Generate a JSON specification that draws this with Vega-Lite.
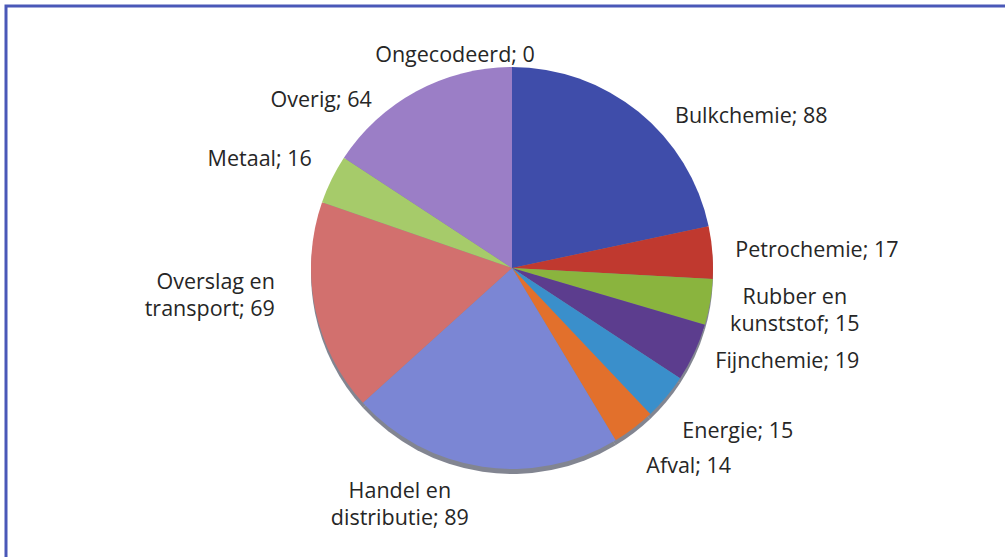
{
  "$schema": "https://vega.github.io/schema/vega-lite/v6.json",
  "autosize": "none",
  "padding": {"left": 6, "top": 6, "right": -10, "bottom": -10},
  "width": 1009,
  "height": 561,
  "background": "white",
  "view": {"stroke": "#4A58B8", "strokeWidth": 3, "fill": "white"},
  "config": {
    "view": {"stroke": "#4A58B8", "strokeWidth": 3},
    "text": {"font": "Open Sans", "fontSize": 21.5, "color": "#262626", "baseline": "middle", "lineBreak": "\n", "lineHeight": 27}
  },
  "data": {
    "values": [
      {"idx": 1, "cat": "Bulkchemie", "value": 88, "label": "Bulkchemie; 88"},
      {"idx": 2, "cat": "Petrochemie", "value": 17, "label": "Petrochemie; 17"},
      {"idx": 3, "cat": "Rubber en kunststof", "value": 15, "label": "Rubber en\nkunststof; 15"},
      {"idx": 4, "cat": "Fijnchemie", "value": 19, "label": "Fijnchemie; 19"},
      {"idx": 5, "cat": "Energie", "value": 15, "label": "Energie; 15"},
      {"idx": 6, "cat": "Afval", "value": 14, "label": "Afval; 14"},
      {"idx": 7, "cat": "Handel en distributie", "value": 89, "label": "Handel en\ndistributie; 89"},
      {"idx": 8, "cat": "Overslag en transport", "value": 69, "label": "Overslag en\ntransport; 69"},
      {"idx": 9, "cat": "Metaal", "value": 16, "label": "Metaal; 16"},
      {"idx": 10, "cat": "Overig", "value": 64, "label": "Overig; 64"},
      {"idx": 11, "cat": "Ongecodeerd", "value": 0, "label": "Ongecodeerd; 0"}
    ]
  },
  "encoding": {
    "theta": {"field": "value", "type": "quantitative", "stack": true},
    "order": {"field": "idx", "type": "quantitative"},
    "detail": {"field": "cat", "type": "nominal"}
  },
  "layer": [
    {
      "mark": {"type": "arc", "outerRadius": 201, "fill": "#2f3348", "opacity": 0.6, "x": {"expr": "width/2+1.5"}, "y": {"expr": "height/2-13.5"}}
    },
    {
      "mark": {"type": "arc", "outerRadius": 201, "x": {"expr": "width/2+1.5"}, "y": {"expr": "height/2-18.5"}},
      "encoding": {
        "color": {
          "field": "cat", "type": "nominal", "legend": null,
          "scale": {
            "domain": ["Bulkchemie", "Petrochemie", "Rubber en kunststof", "Fijnchemie", "Energie", "Afval", "Handel en distributie", "Overslag en transport", "Metaal", "Overig", "Ongecodeerd"],
            "range": ["#3F4DAA", "#C0392F", "#8AB43E", "#5C3D8E", "#3A8FCB", "#E2702C", "#7B86D4", "#D2706E", "#A6CB6A", "#9B7EC6", "#4BACC6"]
          }
        }
      }
    },
    {
      "mark": {"type": "text", "align": "left", "radius": 224, "x": {"expr": "width/2+1.5"}, "y": {"expr": "height/2-18.5"}},
      "encoding": {"text": {"condition": {"test": "indexof(['Petrochemie','Fijnchemie'], datum.cat) >= 0", "field": "label"}, "value": ""}}
    },
    {
      "mark": {"type": "text", "align": "left", "radius": 222, "dy": 22, "x": {"expr": "width/2+1.5"}, "y": {"expr": "height/2-18.5"}},
      "encoding": {"text": {"condition": {"test": "indexof(['Energie','Afval'], datum.cat) >= 0", "field": "label"}, "value": ""}}
    },
    {
      "mark": {"type": "text", "align": "left", "radius": 224, "dx": 22, "dy": 23, "x": {"expr": "width/2+1.5"}, "y": {"expr": "height/2-18.5"}},
      "encoding": {"text": {"condition": {"test": "datum.cat === 'Bulkchemie'", "field": "label"}, "value": ""}}
    },
    {
      "mark": {"type": "text", "align": "center", "radius": 287, "dy": -19, "x": {"expr": "width/2+1.5"}, "y": {"expr": "height/2-18.5"}},
      "encoding": {"text": {"condition": {"test": "datum.cat === 'Rubber en kunststof'", "field": "label"}, "value": ""}}
    },
    {
      "mark": {"type": "text", "align": "right", "radius": 223, "dy": -10, "x": {"expr": "width/2+1.5"}, "y": {"expr": "height/2-18.5"}},
      "encoding": {"text": {"condition": {"test": "datum.cat === 'Metaal'", "field": "label"}, "value": ""}}
    },
    {
      "mark": {"type": "text", "align": "right", "radius": 242, "dy": -33, "x": {"expr": "width/2+1.5"}, "y": {"expr": "height/2-18.5"}},
      "encoding": {"text": {"condition": {"test": "datum.cat === 'Overslag en transport'", "field": "label"}, "value": ""}}
    },
    {
      "mark": {"type": "text", "align": "right", "radius": 215, "dx": -38, "dy": 22, "x": {"expr": "width/2+1.5"}, "y": {"expr": "height/2-18.5"}},
      "encoding": {"text": {"condition": {"test": "datum.cat === 'Overig'", "field": "label"}, "value": ""}}
    },
    {
      "mark": {"type": "text", "align": "center", "radius": 240, "dx": -77, "dy": -13, "x": {"expr": "width/2+1.5"}, "y": {"expr": "height/2-18.5"}},
      "encoding": {"text": {"condition": {"test": "datum.cat === 'Handel en distributie'", "field": "label"}, "value": ""}}
    },
    {
      "mark": {"type": "text", "align": "center", "radius": 212, "dx": -57, "x": {"expr": "width/2+1.5"}, "y": {"expr": "height/2-18.5"}},
      "encoding": {"text": {"condition": {"test": "datum.cat === 'Ongecodeerd'", "field": "label"}, "value": ""}}
    }
  ]
}
